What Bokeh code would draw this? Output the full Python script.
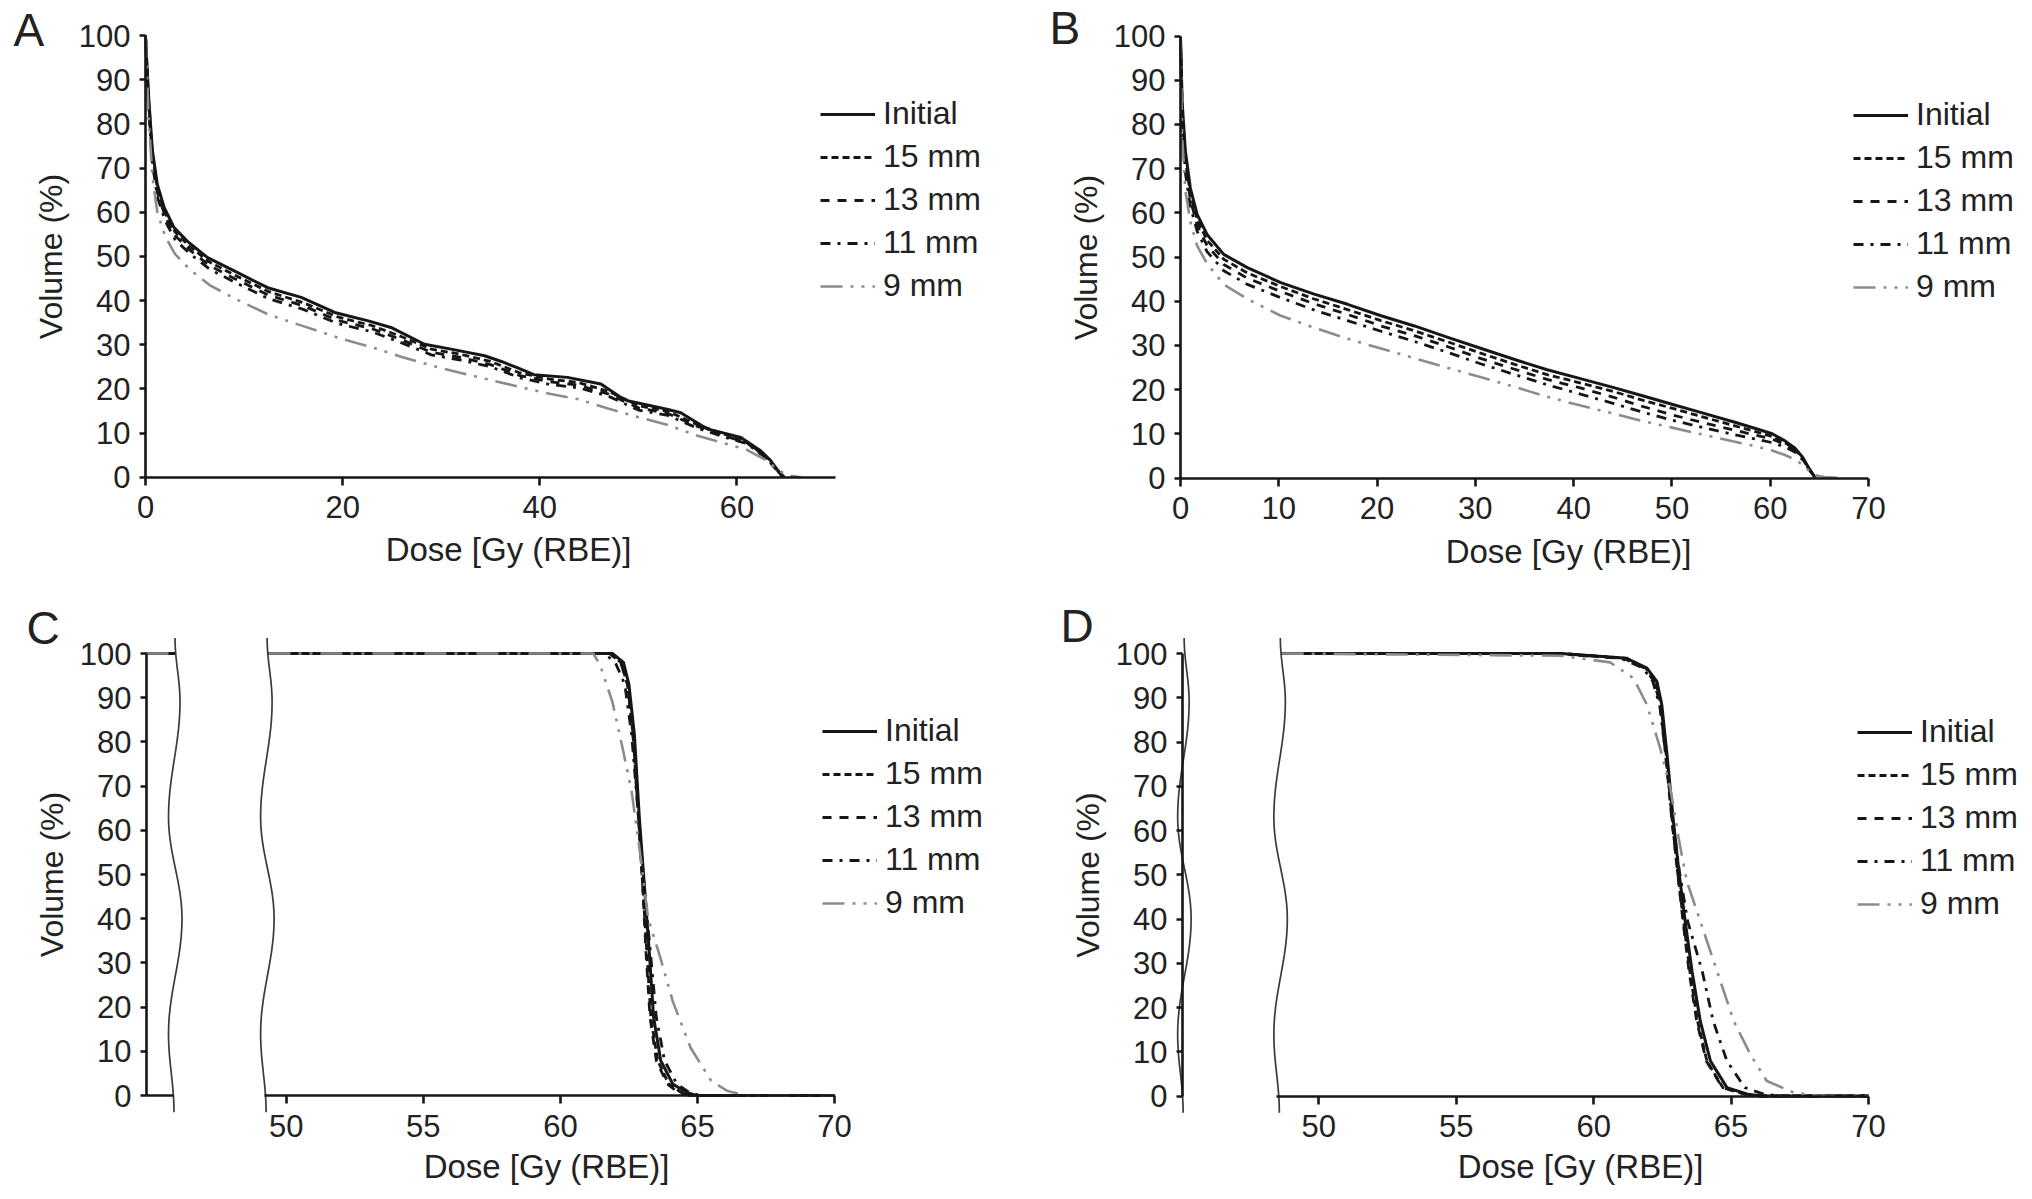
import numpy as np
from bokeh.plotting import figure
from bokeh.layouts import column, row
from bokeh.models import Range1d, FixedTicker, Legend, LegendItem, Label
from bokeh.embed import file_html
from bokeh.resources import INLINE

FONT = "Liberation Sans"
INK = "#161616"
TEXT = "#222222"
W = 1016
H_TOP = 590
H_BOT = 609

series_names = ["Initial", "15 mm", "13 mm", "11 mm", "9 mm"]

# ---- panel A -------------------------------------------------------------
a_dose_init = [0, 0.15, 0.35, 0.7, 1.2, 1.9, 2.9, 4.2, 6.3, 9.0, 12.4, 15.8, 19.2,
               22.6, 24.9, 28.3, 31.0, 34.4, 36.1, 37.7, 39.4, 42.8, 46.2, 48.2,
               48.9, 52.9, 54.3, 57.0, 59.0, 60.4, 62.4, 63.4, 64.3, 64.6]
a_vol_init = [100, 93, 85, 74, 66.3, 61, 56.5, 53.5, 49.7, 46.7, 42.9, 40.7, 37.3,
              35.4, 33.9, 30.1, 29.0, 27.5, 26.2, 24.8, 23.2, 22.6, 21.1, 18.1,
              17.3, 15.4, 14.6, 10.9, 9.8, 9.0, 6.0, 3.8, 1.1, 0]
a_dose = [0, 0.3, 0.7, 1.2, 2, 3, 4.5, 6.5, 9, 12.5, 16, 19.5, 23, 26, 29, 32, 35,
          38, 41, 44, 47, 50, 53, 56, 59, 61, 63, 64, 64.8]
a_vol_15 = [100, 86, 73, 65.5, 59.8, 55.5, 52.2, 48.7, 45.8, 42, 39.5, 36.3, 34.3,
            31.8, 29, 27.8, 26.2, 23.6, 22.2, 21.4, 19.4, 16.2, 14.9, 11.9, 9.5,
            8.0, 4.4, 1.7, 0]
a_vol_13 = [100, 85, 72, 64.5, 59, 54.7, 51.4, 47.9, 45, 41.2, 38.8, 35.5, 33.6,
            31.1, 28.3, 27.1, 25.5, 23, 21.6, 20.8, 18.8, 15.7, 14.4, 11.5, 9.2,
            7.8, 4.3, 1.7, 0]
a_vol_11 = [100, 84, 71, 63.5, 58, 53.8, 50.6, 47.1, 44.2, 40.4, 38, 34.8, 32.9,
            30.4, 27.7, 26.5, 25, 22.5, 21, 20.2, 18.3, 15.2, 14, 11.1, 8.9, 7.6,
            4.3, 1.8, 0]
a_dose_9 = [0, 0.3, 0.7, 1.2, 2, 3, 4.5, 6.5, 9, 12.5, 16, 19.5, 23, 26, 29, 32, 35,
            38, 41, 44, 47, 50, 53, 56, 59, 61, 63, 64, 64.8, 65.5, 66.5]
a_vol_9 = [100, 82, 68, 60, 54.5, 50.5, 47, 43.5, 40.5, 36.8, 34.2, 31.6, 29.4,
           27.2, 25.3, 23.6, 22, 20.4, 18.9, 17.6, 15.5, 13.6, 11.8, 9.4, 7.5, 6.2,
           3.8, 1.9, 0.8, 0.3, 0]

# ---- panel B -------------------------------------------------------------
b_dose = [0, 0.17, 0.5, 1.0, 1.7, 2.7, 4.4, 6.8, 10.2, 13.6, 17, 20.4, 23.8, 27.2,
          30.6, 34, 37.3, 40.5, 44, 47, 50, 53, 56.4, 58.5, 60.2, 61.5, 62.5, 63.3,
          64, 64.6]
b_vol_init = [100, 85, 73.9, 65.6, 59.6, 55.1, 50.6, 47.6, 44.2, 41.6, 39.3, 36.7,
              34.4, 31.8, 29.3, 26.8, 24.5, 22.6, 20.5, 18.6, 16.7, 14.8, 12.6, 11.2,
              10.0, 8.4, 6.8, 4.7, 2.0, 0]
b_vol_15 = [100, 83, 72, 64.3, 58.4, 53.8, 49.5, 46.4, 43.3, 40.5, 38.1, 35.6, 33.3,
            30.8, 28.2, 25.7, 23.4, 21.6, 19.6, 17.6, 15.8, 13.9, 11.8, 10.5, 9.4,
            8.0, 6.5, 4.5, 1.9, 0]
b_vol_13 = [100, 82, 71, 63, 57.2, 52.6, 48.3, 45.2, 42.2, 39.4, 37, 34.4, 32.2,
            29.7, 27, 24.6, 22.3, 20.5, 18.3, 16.2, 14.3, 12.6, 10.8, 9.7, 8.8, 7.6,
            6.3, 4.3, 1.8, 0]
b_vol_11 = [100, 80, 69, 61.5, 55.8, 51.2, 46.9, 43.8, 40.8, 38, 35.6, 33.2, 30.9,
            28.4, 25.8, 23.4, 21.1, 19.1, 16.9, 14.9, 13.1, 11.5, 9.8, 8.8, 8.0, 7.0,
            5.9, 4.1, 1.8, 0]
b_dose_9 = [0, 0.17, 0.5, 1.0, 1.7, 2.7, 4.4, 6.8, 10.2, 13.6, 17, 20.4, 23.8, 27.2,
            30.6, 34, 37.3, 40.5, 44, 47, 50, 53, 56.4, 58.5, 60.2, 61.5, 62.5,
            63.3, 64, 64.6, 65.5, 67]
b_vol_9 = [100, 77, 65, 58, 52.5, 48.5, 43.8, 40.5, 36.7, 34, 31.5, 29.3, 27.1,
           24.9, 22.8, 20.6, 18.4, 16.5, 14.6, 12.9, 11.4, 9.9, 8.2, 7.2, 6.2, 5.2,
           4.2, 3.0, 1.5, 0.6, 0.2, 0]

# ---- panel C (broken dose axis) ------------------------------------------
c_vol = [100, 100, 98, 93, 81.6, 62.8, 47.8, 32.7, 17.7, 7.9, 2.6, 0.7, 0, 0]
c_dose_init = [49.35, 61.9, 62.3, 62.5, 62.7, 62.88, 63.06, 63.24, 63.4, 63.66,
               64.1, 64.6, 64.95, 70]
c_dose_15 = [49.35, 61.8, 62.2, 62.45, 62.65, 62.85, 63.0, 63.15, 63.3, 63.55,
             63.95, 64.4, 64.8, 70]
c_dose_13 = [49.35, 61.8, 62.2, 62.45, 62.65, 62.85, 63.0, 63.12, 63.27, 63.5,
             63.9, 64.3, 64.7, 70]
c_dose_11 = [49.35, 61.6, 62.0, 62.35, 62.6, 62.85, 63.05, 63.28, 63.5, 63.8,
             64.25, 64.7, 65.1, 70]
c_dose_9 = [49.35, 61.2, 61.45, 61.9, 62.3, 62.6, 62.9, 63.2, 63.65, 64.1, 64.75,
            65.5, 66.1, 66.8, 70]
c_vol_9 = [100, 100, 97.4, 89, 77.7, 68.7, 55.2, 40.1, 31.1, 21.3, 10.8, 3.3, 1.0,
           0, 0]

# ---- panel D (broken dose axis) ------------------------------------------
d_vol = [100, 100, 98.9, 96.7, 93.7, 88.4, 77.1, 62.1, 50.8, 39.5, 28.2, 16.9, 7.9,
         1.9, 0.4, 0, 0]
d_dose_init = [48.65, 58.8, 61.2, 61.94, 62.3, 62.48, 62.67, 62.9, 63.1, 63.33,
               63.58, 63.88, 64.25, 64.85, 65.6, 66.1, 70]
d_dose_15 = [48.65, 58.8, 61.2, 61.9, 62.25, 62.45, 62.64, 62.86, 63.05, 63.27,
             63.5, 63.78, 64.12, 64.7, 65.5, 66.0, 70]
d_dose_13 = [48.65, 58.8, 61.1, 61.85, 62.2, 62.42, 62.62, 62.85, 63.05, 63.25,
             63.47, 63.75, 64.1, 64.68, 65.5, 66.0, 70]
d_dose_11 = [48.65, 58.5, 61.0, 61.8, 62.15, 62.4, 62.62, 62.88, 63.12, 63.42,
             63.95, 64.35, 64.85, 65.5, 66.2, 66.8, 70]
d_dose_9 = [48.65, 58.79, 60.6, 61.45, 61.94, 62.42, 62.79, 63.09, 63.39, 63.88,
            64.49, 65.1, 65.7, 66.3, 67.27, 68.2, 70]
d_vol_9 = [100, 99.5, 98, 94.4, 88.4, 78.6, 69.6, 58.3, 48.5, 39.5, 28.2, 16.9, 9.4,
           3.4, 0.8, 0, 0]

STYLE = [
    dict(line_color=INK, line_width=3.0, line_dash="solid"),
    dict(line_color=INK, line_width=2.8, line_dash="7 4"),
    dict(line_color=INK, line_width=2.8, line_dash="9 8"),
    dict(line_color=INK, line_width=2.8, line_dash="10 7 3 7"),
    dict(line_color="#8c8c8c", line_width=2.6, line_dash="22 8 3 8 3 8"),
]

# hand-drawn axis break squiggle: volume level and sideways offset in px
BREAK_Y = [103.5, 89, 63, 40, 14, -3.8]
BREAK_DX = [0, 5, -6.5, 7, -6.5, -1]


def squiggle(xc, px_per_unit):
    xs, ys = [], []
    for i in range(len(BREAK_Y) - 1):
        t = np.linspace(0, 1, 14)
        s = (1 - np.cos(np.pi * t)) / 2
        ys += list(BREAK_Y[i] + (BREAK_Y[i + 1] - BREAK_Y[i]) * t)
        dx = BREAK_DX[i] + (BREAK_DX[i + 1] - BREAK_DX[i]) * s
        xs += list(xc + dx / px_per_unit)
    return xs, ys


def panel(letter, curves, x_start, ticks, axis_x0, geo, height, label_xy,
          letter_xy, legend_lt, breaks=None, stub=None):
    # geo: canvas px of x_start, x=70, y=100, y=0
    px_l, px_r, py_t, py_b = geo
    upx = (70 - x_start) / (px_r - px_l)
    upy = 100 / (py_b - py_t)
    p = figure(width=W, height=height, title=None,
               x_range=Range1d(x_start - px_l * upx, 70 + (W - px_r) * upx),
               y_range=Range1d(-(height - py_b) * upy, 100 + py_t * upy),
               output_backend="svg", toolbar_location=None,
               min_border_left=0, min_border_right=0, min_border_top=0,
               min_border_bottom=0)
    p.grid.visible = False
    p.outline_line_color = None

    for ax in (p.xaxis[0], p.yaxis[0]):
        ax.axis_line_width = 2.6
        ax.axis_line_color = INK
        ax.major_tick_line_width = 2.6
        ax.major_tick_line_color = INK
        ax.major_tick_in = 0
        ax.minor_tick_line_color = None
        ax.major_label_text_font = FONT
        ax.major_label_text_font_size = "31px"
        ax.major_label_text_color = TEXT
    p.xaxis.fixed_location = 0
    p.xaxis.ticker = FixedTicker(ticks=ticks)
    p.xaxis.bounds = (axis_x0, 70)
    p.xaxis.major_tick_out = 8
    p.xaxis.major_label_standoff = 11
    p.yaxis.fixed_location = x_start
    p.yaxis.ticker = FixedTicker(ticks=list(range(0, 101, 10)))
    p.yaxis.bounds = (0, 100)
    p.yaxis.major_tick_out = 6
    p.yaxis.major_label_standoff = 9
    p.yaxis.axis_label = "Volume (%)"
    p.yaxis.axis_label_text_font = FONT
    p.yaxis.axis_label_text_font_size = "32px"
    p.yaxis.axis_label_text_font_style = "normal"
    p.yaxis.axis_label_text_color = TEXT
    p.yaxis.axis_label_standoff = 7

    items = []
    for name, (dose, vol), st in zip(series_names, curves, STYLE):
        r = p.line(dose, vol, line_join="round", **st)
        items.append(LegendItem(label=name, renderers=[r]))
        if stub is not None:
            p.line([x_start, stub], [vol[0], vol[0]], **st)

    if breaks is not None:
        ppu = 1 / upx
        for xc in breaks:
            xs, ys = squiggle(xc, ppu)
            p.line(xs, ys, line_color="#3a3a3a", line_width=1.7)
        if stub is not None:
            p.line([x_start, breaks[0] - 1.6 * upx], [0, 0], line_color=INK,
                   line_width=2.6)

    leg_h = 5 * 36 + 4 * 6
    legend = Legend(items=items,
                    location=(legend_lt[0], height - legend_lt[1] - leg_h),
                    glyph_width=55, glyph_height=36, label_height=36, spacing=6,
                    padding=0, margin=0, label_standoff=8,
                    border_line_color=None, background_fill_alpha=0,
                    label_text_font=FONT, label_text_font_size="32px",
                    label_text_color=TEXT)
    p.add_layout(legend)

    p.add_layout(Label(x=label_xy[0], y=height - label_xy[1], x_units="screen",
                       y_units="screen", text="Dose [Gy (RBE)]",
                       text_align="center", text_baseline="alphabetic",
                       text_font=FONT, text_font_size="33px", text_color=TEXT))
    p.add_layout(Label(x=letter_xy[0], y=height - letter_xy[1], x_units="screen",
                       y_units="screen", text=letter, text_baseline="alphabetic",
                       text_font=FONT, text_font_size="46px", text_color=TEXT))
    return p


curves_a = [(a_dose_init, a_vol_init), (a_dose, a_vol_15), (a_dose, a_vol_13),
            (a_dose, a_vol_11), (a_dose_9, a_vol_9)]
curves_b = [(b_dose, b_vol_init), (b_dose, b_vol_15), (b_dose, b_vol_13),
            (b_dose, b_vol_11), (b_dose_9, b_vol_9)]
curves_c = [(c_dose_init, c_vol), (c_dose_15, c_vol), (c_dose_13, c_vol),
            (c_dose_11, c_vol), (c_dose_9, c_vol_9)]
curves_d = [(d_dose_init, d_vol), (d_dose_15, d_vol), (d_dose_13, d_vol),
            (d_dose_11, d_vol), (d_dose_9, d_vol_9)]

pA = panel("A", curves_a, 0, [0, 20, 40, 60], 0, (145, 835, 35, 476.7), H_TOP,
           (508, 549), (13, 29), (820, 100))
pB = panel("B", curves_b, 0, list(range(0, 71, 10)), 0, (164, 852, 35.5, 477.5),
           H_TOP, (552, 551), (33, 27), (837, 101))
pC = panel("C", curves_c, 44.9, [50, 55, 60, 65, 70], 49.2, (146, 834, 63, 505),
           H_BOT, (546, 576), (26, 37), (822, 127), breaks=(45.94, 49.3),
           stub=45.94)
pD = panel("D", curves_d, 45.04, [50, 55, 60, 65, 70], 48.45,
           (166, 852, 63, 505.5), H_BOT, (564, 576), (44, 35), (841, 128),
           breaks=(45.1, 48.6))

layout = column(row(pA, pB), row(pC, pD))
open("out.html", "w").write(file_html(layout, INLINE))
